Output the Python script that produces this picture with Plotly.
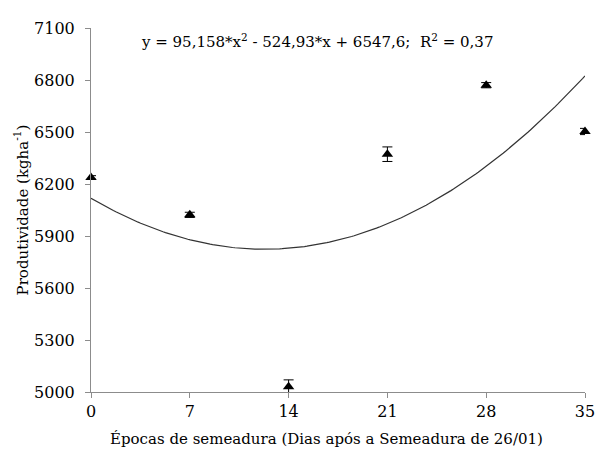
import numpy as np
import plotly.graph_objects as go

# Data
days = [0, 7, 14, 21, 28, 35]
productivity = [6238, 6022, 5030, 6372, 6770, 6503]
errors = [10, 15, 40, 42, 15, 18]

# Trend line coefficients (as printed on the chart; x = sowing index 1..6)
coef_a = 95.158
coef_b = -524.93
coef_c = 6547.6
equation_text = "y = 95,158*x<sup>2</sup> - 524,93*x + 6547,6;  R<sup>2</sup> = 0,37"

x_ticks = [0, 7, 14, 21, 28, 35]
y_ticks = [5000, 5300, 5600, 5900, 6200, 6500, 6800, 7100]

d = np.linspace(0, 35, 200)
idx = d / 7 + 1
trend = coef_a * idx**2 + coef_b * idx + coef_c

font_family = "DejaVu Serif"

# page body has an 8px margin; figure coordinates are offset accordingly
W, H = 598, 443
L, R, T, B = 83, 11, 14, 59
pw, ph = W - L - R, H - T - B


def px(xp):
    return (xp - 8 - L) / pw


def py(yp):
    return 1 - (yp - 8 - T) / ph


fig = go.Figure()
fig.add_trace(go.Scatter(
    x=d, y=trend, mode="lines",
    line=dict(color="#333333", width=1.2),
    hoverinfo="skip", showlegend=False, cliponaxis=False,
))
fig.add_trace(go.Scatter(
    x=days, y=productivity, mode="markers",
    marker=dict(symbol="triangle-up", size=10, color="black"),
    error_y=dict(type="data", array=errors, visible=True, color="black",
                 thickness=1, width=5),
    showlegend=False, cliponaxis=False,
))

fig.update_layout(
    width=W, height=H,
    margin=dict(l=L, r=R, t=T, b=B, pad=0),
    paper_bgcolor="white", plot_bgcolor="white",
    font=dict(family=font_family, size=16, color="black"),
    xaxis=dict(
        range=[0, 35], tickvals=x_ticks, ticktext=[str(t) for t in x_ticks],
        showgrid=False, zeroline=False, showline=True, linecolor="#8c8c8c",
        linewidth=1, ticks="outside", ticklen=5, tickcolor="#8c8c8c",
        tickfont=dict(size=16, family=font_family),
    ),
    yaxis=dict(
        range=[5000, 7100], tickvals=y_ticks, ticktext=[str(t) for t in y_ticks],
        showgrid=False, zeroline=False, showline=True, linecolor="#8c8c8c",
        linewidth=1, ticks="outside", ticklen=5, tickcolor="#8c8c8c",
        tickfont=dict(size=16, family=font_family), ticklabelstandoff=7,
    ),
    annotations=[
        dict(text=equation_text, xref="paper", yref="paper",
             x=px(322), y=py(35), xanchor="center", yanchor="middle",
             showarrow=False, font=dict(size=15, family=font_family)),
        dict(text="Épocas de semeadura (Dias após a Semeadura de 26/01)",
             xref="paper", yref="paper", x=px(331), y=py(440),
             xanchor="center", yanchor="middle", showarrow=False,
             font=dict(size=15, family=font_family)),
        dict(text="Produtividade (kgha<sup>-1</sup>)", xref="paper", yref="paper",
             x=px(20), y=py(207), xanchor="center", yanchor="middle",
             textangle=-90, showarrow=False, font=dict(size=15, family=font_family)),
    ],
)

fig.write_html("out.html")
